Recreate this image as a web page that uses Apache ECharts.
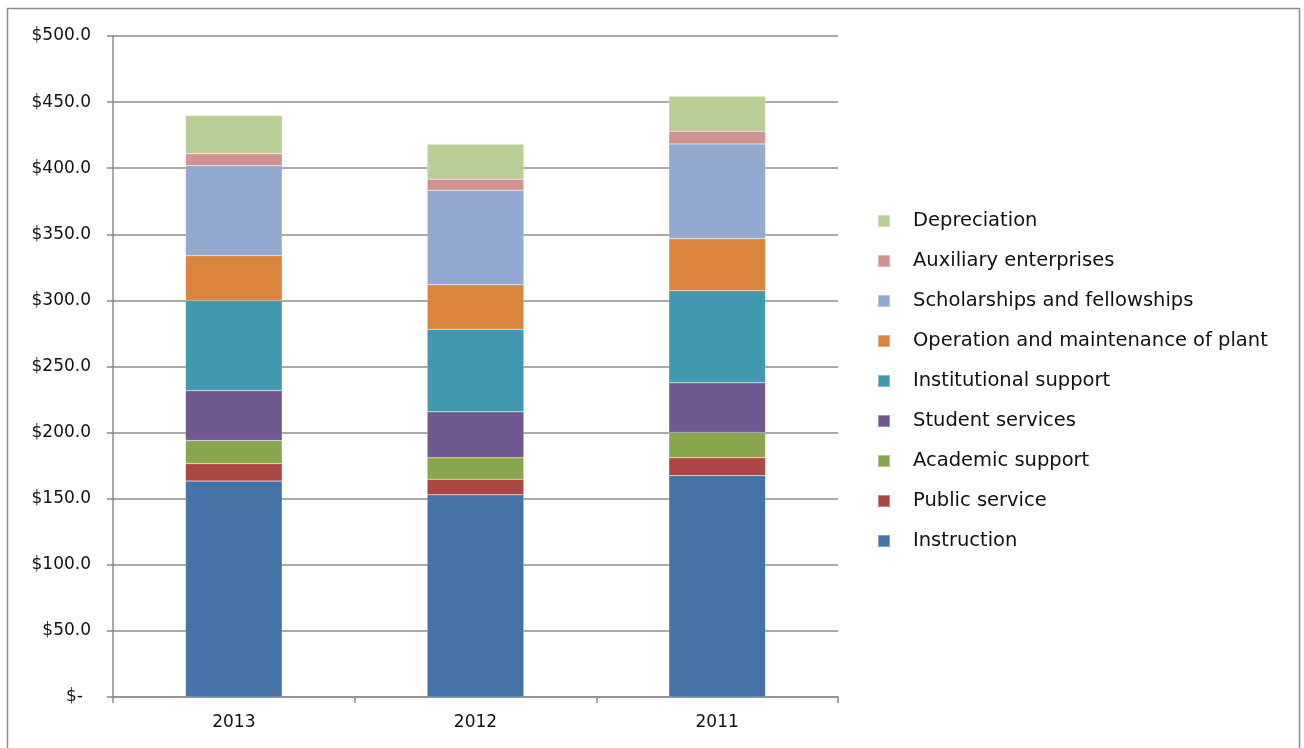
<!DOCTYPE html>
<html>
<head>
<meta charset="utf-8">
<script src="https://cdn.jsdelivr.net/npm/echarts@6/dist/echarts.min.js"></script>
<style>
html,body{margin:0;padding:0;background:#fff;}
#c{width:1304px;height:748px;}
</style>
</head>
<body>
<div id="c"></div>
<script>
const categories = ['2013', '2012', '2011'];
const seriesNames = ['Instruction', 'Public service', 'Academic support', 'Student services',
  'Institutional support', 'Operation and maintenance of plant', 'Scholarships and fellowships',
  'Auxiliary enterprises', 'Depreciation'];
const instruction = [163.3, 152.9, 167.5];
const publicService = [13.1, 11.9, 13.4];
const academicSupport = [17.6, 16.1, 19.2];
const studentServices = [37.8, 34.8, 37.6];
const institutionalSupport = [68.1, 62.5, 69.6];
const operationMaintenance = [33.8, 33.6, 39.5];
const scholarships = [68.1, 71.6, 71.6];
const auxiliary = [9.1, 8.3, 9.6];
const depreciation = [29.0, 26.5, 26.5];
const yTickLabels = ['$-', '$50.0', '$100.0', '$150.0', '$200.0', '$250.0', '$300.0', '$350.0', '$400.0', '$450.0', '$500.0'];
const colors = ['#4572A7', '#AA4643', '#89A54E', '#71588F', '#4198AF', '#DB843D', '#93A9CF', '#D19392', '#B9CD96'];

const seriesData = [instruction, publicService, academicSupport, studentServices,
  institutionalSupport, operationMaintenance, scholarships, auxiliary, depreciation];

const FONT = 'DejaVu Sans';
const chart = echarts.init(document.getElementById('c'), null, {renderer: 'canvas'});
const option = {
  animation: false,
  backgroundColor: '#fff',
  color: colors,
  textStyle: {fontFamily: FONT},
  graphic: [{
    type: 'rect', silent: true, z: -1,
    shape: {x: 7.5, y: 8.5, width: 1292, height: 760},
    style: {fill: 'none', stroke: '#8c8c8c', lineWidth: 1.5}
  }],
  grid: {left: 113, top: 36, width: 725, height: 661, containLabel: false},
  legend: {
    orient: 'vertical',
    left: 872,
    top: 206,
    itemWidth: 12,
    itemHeight: 12,
    itemGap: 20,
    icon: 'rect',
    data: seriesNames.slice().reverse(),
    textStyle: {fontFamily: FONT, fontSize: 19.5, color: '#111', padding: [0, 0, 0, 18]},
    selectedMode: false
  },
  xAxis: {
    type: 'category',
    data: categories,
    axisLine: {lineStyle: {color: '#8c8c8c', width: 1.5}},
    axisTick: {show: true, length: 6, lineStyle: {color: '#8c8c8c', width: 1.5}},
    axisLabel: {fontFamily: FONT, fontSize: 17, color: '#111', margin: 17}
  },
  yAxis: {
    type: 'value',
    min: 0, max: 500, interval: 50,
    axisLine: {show: true, lineStyle: {color: '#8c8c8c', width: 1.5}},
    axisTick: {show: true, length: 6, lineStyle: {color: '#8c8c8c', width: 1.5}},
    splitLine: {lineStyle: {color: '#8c8c8c', width: 1.5}},
    axisLabel: {
      fontFamily: FONT, fontSize: 17, color: '#111', margin: 22,
      formatter: function (v) {
        const lbl = yTickLabels[Math.round(v / 50)];
        return v === 0 ? '{z|' + lbl + '}' : lbl;
      },
      rich: {z: {fontFamily: FONT, fontSize: 17, color: '#111', padding: [0, 8, 0, 0]}}
    }
  },
  series: seriesNames.map((n, i) => ({
    name: n,
    type: 'bar',
    stack: 'total',
    barWidth: '40%',
    data: seriesData[i],
    itemStyle: {color: colors[i], borderColor: 'rgba(255,255,255,0.35)', borderWidth: 0.5}
  }))
};
chart.setOption(option);
</script>
</body>
</html>
